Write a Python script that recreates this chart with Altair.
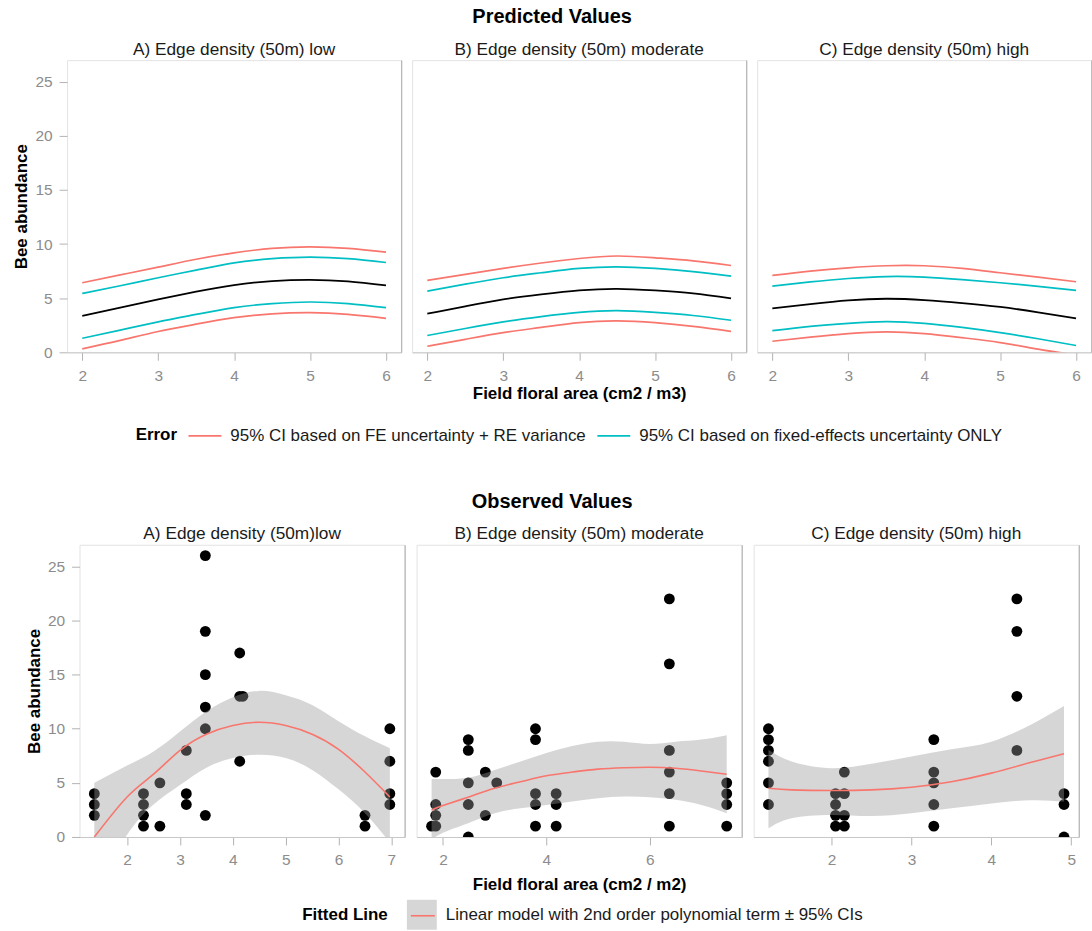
import altair as alt
import pandas as pd

FONT = "Liberation Sans"
RED = "#F8766D"
CYAN = "#00BFC4"

ERR_RE = "95% CI based on FE uncertainty + RE variance"
ERR_FE = "95% CI based on fixed-effects uncertainty ONLY"
FIT_LABEL = "Linear model with 2nd order polynomial term \u00b1 95% CIs"
FIT_KEY = "fitted line"

PRED_TITLES = ["A) Edge density (50m) low", "B) Edge density (50m) moderate", "C) Edge density (50m) high"]
OBS_TITLES = ["A) Edge density (50m)low", "B) Edge density (50m) moderate", "C) Edge density (50m) high"]

# ---------------- predicted values (model fit with two kinds of 95% CI) ----------------
pred_x = [2.0, 2.5, 3.0, 3.5, 4.0, 4.5, 5.0, 5.5, 6.0]

pred_fit_a = [3.36, 4.13, 4.89, 5.60, 6.21, 6.58, 6.70, 6.55, 6.18]
pred_re_hi_a = [6.43, 7.15, 7.87, 8.60, 9.19, 9.60, 9.74, 9.60, 9.25]
pred_fe_hi_a = [5.44, 6.15, 6.89, 7.60, 8.27, 8.65, 8.79, 8.65, 8.30]
pred_fe_lo_a = [1.30, 2.05, 2.81, 3.50, 4.13, 4.50, 4.65, 4.50, 4.13]
pred_re_lo_a = [0.32, 1.10, 1.92, 2.60, 3.20, 3.55, 3.66, 3.50, 3.14]

pred_fit_b = [3.57, 4.25, 4.89, 5.35, 5.72, 5.87, 5.72, 5.45, 4.98]
pred_re_hi_b = [6.64, 7.20, 7.75, 8.25, 8.67, 8.90, 8.73, 8.45, 8.02]
pred_fe_hi_b = [5.66, 6.30, 6.89, 7.35, 7.75, 7.90, 7.75, 7.45, 7.04]
pred_fe_lo_b = [1.55, 2.20, 2.81, 3.30, 3.69, 3.85, 3.69, 3.40, 2.96]
pred_re_lo_b = [0.56, 1.20, 1.82, 2.30, 2.74, 2.90, 2.74, 2.40, 1.94]

pred_fit_c = [4.06, 4.45, 4.80, 4.95, 4.83, 4.55, 4.19, 3.70, 3.14]
pred_re_hi_c = [7.10, 7.50, 7.81, 8.00, 8.00, 7.75, 7.35, 6.95, 6.52]
pred_fe_hi_c = [6.12, 6.50, 6.82, 7.00, 6.95, 6.72, 6.43, 6.10, 5.72]
pred_fe_lo_c = [2.00, 2.40, 2.68, 2.83, 2.68, 2.30, 1.82, 1.25, 0.63]
pred_re_lo_c = [1.02, 1.40, 1.73, 1.89, 1.73, 1.35, 0.90, 0.30, -0.27]

# ---------------- observed values ----------------
obs_a_x = [1.38, 1.38, 1.38, 2.31, 2.31, 2.31, 2.31, 2.62, 2.62, 3.12, 3.12, 3.12,
           3.48, 3.48, 3.48, 3.48, 3.48, 3.48, 4.13, 4.13, 4.19, 4.13, 6.50, 6.50,
           6.97, 6.97, 6.97, 6.97]
obs_a_y = [4, 3, 2, 4, 3, 2, 1, 5, 1, 8, 4, 3,
           26, 19, 15, 12, 10, 2, 17, 13, 13, 7, 2, 1,
           10, 7, 4, 3]

obs_b_x = [1.78, 1.86, 1.86, 1.86, 1.86, 2.49, 2.49, 2.49, 2.49, 2.49, 2.82, 2.82, 3.04,
           3.79, 3.79, 3.79, 3.79, 3.79, 4.19, 4.19, 4.19,
           6.38, 6.38, 6.38, 6.38, 6.38, 6.38, 7.49, 7.49, 7.49, 7.49]
obs_b_y = [1, 1, 2, 3, 6, 9, 8, 5, 3, 0, 6, 2, 5,
           10, 9, 4, 3, 1, 4, 3, 1,
           22, 16, 8, 6, 4, 1, 5, 4, 3, 1]

obs_c_x = [1.21, 1.21, 1.21, 1.21, 1.21, 1.21, 2.05, 2.05, 2.05, 2.05, 2.16, 2.16, 2.16, 2.16,
           3.28, 3.28, 3.28, 3.28, 3.28, 4.32, 4.32, 4.32, 4.32, 4.91, 4.91, 4.91]
obs_c_y = [10, 9, 8, 7, 5, 3, 4, 3, 2, 1, 6, 4, 2, 1,
           9, 6, 5, 3, 1, 22, 19, 13, 8, 4, 3, 0]

# fitted curve and its 95% band for each panel
fit_a_x = [1.38, 2.0, 2.5, 3.0, 3.5, 4.0, 4.5, 5.0, 5.5, 6.0, 6.5, 6.97]
fit_a_y = [0.0, 3.7, 5.8, 8.0, 9.5, 10.3, 10.6, 10.3, 9.5, 8.1, 6.0, 3.7]
fit_a_hi = [5.0, 6.6, 7.9, 9.75, 11.6, 12.9, 13.5, 13.1, 12.2, 10.7, 9.3, 8.2]
fit_a_lo = [-5.0, 0.2, 3.0, 4.8, 6.4, 7.3, 7.6, 7.3, 6.2, 4.4, 2.2, -0.5]

fit_b_x = [1.78, 2.0, 2.5, 3.0, 3.5, 4.0, 4.5, 5.0, 5.5, 6.0, 6.5, 7.0, 7.49]
fit_b_y = [2.5, 2.9, 3.7, 4.5, 5.1, 5.65, 6.0, 6.27, 6.4, 6.45, 6.35, 6.1, 5.8]
fit_b_hi = [5.35, 5.35, 5.5, 6.2, 6.97, 7.75, 8.4, 8.8, 8.8, 8.6, 8.8, 9.0, 9.4]
fit_b_lo = [-0.3, 0.4, 1.3, 2.2, 2.65, 2.96, 3.27, 3.58, 3.73, 3.67, 3.43, 2.96, 2.2]

fit_c_x = [1.21, 1.5, 2.0, 2.5, 3.0, 3.5, 4.0, 4.5, 4.91]
fit_c_y = [4.5, 4.35, 4.29, 4.35, 4.6, 5.1, 5.9, 6.9, 7.7]
fit_c_hi = [8.05, 6.97, 6.36, 6.76, 7.44, 8.1, 8.8, 10.4, 12.1]
fit_c_lo = [0.8, 1.73, 2.04, 1.94, 2.2, 2.65, 3.1, 3.4, 3.27]

PRED_SERIES = [
    (pred_fit_a, pred_re_hi_a, pred_fe_hi_a, pred_fe_lo_a, pred_re_lo_a),
    (pred_fit_b, pred_re_hi_b, pred_fe_hi_b, pred_fe_lo_b, pred_re_lo_b),
    (pred_fit_c, pred_re_hi_c, pred_fe_hi_c, pred_fe_lo_c, pred_re_lo_c),
]
OBS_POINTS = [(obs_a_x, obs_a_y), (obs_b_x, obs_b_y), (obs_c_x, obs_c_y)]
OBS_FITS = [(fit_a_x, fit_a_y, fit_a_hi, fit_a_lo),
            (fit_b_x, fit_b_y, fit_b_hi, fit_b_lo),
            (fit_c_x, fit_c_y, fit_c_hi, fit_c_lo)]
OBS_XDOMAINS = [[1.10, 7.25], [1.49, 7.78], [1.025, 5.095]]
OBS_XTICKS = [[2, 3, 4, 5, 6, 7], [2, 4, 6], [2, 3, 4, 5]]

Y_TICKS = [0, 5, 10, 15, 20, 25]
Y_SCALE = alt.Scale(domain=[0, 27], nice=False, zero=False)

TOP_W, BOT_W, PANEL_H = 335, 326, 293
CURVE = "natural"

color_legend = alt.Legend(
    title="Error", orient="none", legendX=69, legendY=359, direction="horizontal",
    titleOrient="left", titleAnchor="end", titleBaseline="bottom", titlePadding=10,
    symbolType="stroke", symbolSize=1089, symbolStrokeWidth=1.8,
    labelOffset=8, columnPadding=7, padding=0,
)
# grey key box with the title and label
fill_legend = alt.Legend(
    title="Fitted Line", orient="none", legendX=236, legendY=842, direction="horizontal",
    titleOrient="left", titleAnchor="middle", titleBaseline="middle", titlePadding=19,
    symbolType="square", symbolSize=900, symbolOpacity=0.4, symbolStrokeWidth=0,
    labelOffset=9, padding=0,
)
# red line drawn across the middle of the grey key box
stroke_legend = alt.Legend(
    title=None, orient="none", legendX=344, legendY=845, direction="horizontal",
    symbolType="stroke", symbolSize=576, symbolStrokeWidth=1.6,
    labelExpr="''", labelOffset=0, padding=0,
)

right_edge = alt.Axis(orient="right", labels=False, ticks=False, title=None, grid=False,
                      domain=True, domainColor="#b5b5b5", domainWidth=1.2)


def left_axis():
    return alt.Axis(values=Y_TICKS, title="Bee abundance", grid=False, domain=False)


def pred_frame(i):
    fit, re_hi, fe_hi, fe_lo, re_lo = PRED_SERIES[i]
    rows = []
    for vals, series, bound in [(fit, "fit", "mid"), (re_hi, ERR_RE, "hi"), (re_lo, ERR_RE, "lo"),
                                (fe_hi, ERR_FE, "hi"), (fe_lo, ERR_FE, "lo")]:
        for xv, yv in zip(pred_x, vals):
            rows.append({"x": xv, "y": yv, "series": series, "bound": bound})
    return pd.DataFrame(rows)


def pred_panel(i):
    df = pred_frame(i)
    xenc = alt.X("x:Q", scale=alt.Scale(domain=[1.8, 6.2], nice=False, zero=False),
                 axis=alt.Axis(values=[2, 3, 4, 5, 6], format="d", grid=False, titlePadding=2,
                               title="Field floral area (cm2 / m3)" if i == 1 else None))
    ci = alt.Chart(df).transform_filter(alt.datum.series != "fit").mark_line(
        strokeWidth=1.7, interpolate=CURVE, clip=True
    ).encode(
        x=xenc,
        y=alt.Y("y:Q", scale=Y_SCALE, axis=left_axis() if i == 0 else None),
        color=alt.Color("series:N", scale=alt.Scale(domain=[ERR_RE, ERR_FE], range=[RED, CYAN]),
                        legend=color_legend),
        detail="bound:N",
    )
    fit = alt.Chart(df).transform_filter(alt.datum.series == "fit").mark_line(
        strokeWidth=1.8, interpolate=CURVE, clip=True, color="black"
    ).encode(x=xenc, y=alt.Y("y:Q", scale=Y_SCALE, axis=right_edge))
    return alt.layer(ci, fit).resolve_axis(y="independent").properties(
        width=TOP_W, height=PANEL_H, title=PRED_TITLES[i])


def obs_panel(i):
    px, py = OBS_POINTS[i]
    fx, fy, fhi, flo = OBS_FITS[i]
    pts = pd.DataFrame({"x": px, "y": py})
    fit = pd.DataFrame({"x": fx, "fit": fy, "hi": fhi, "lo": flo,
                        "band": FIT_LABEL, "line": FIT_KEY})
    xenc = alt.X("x:Q", scale=alt.Scale(domain=OBS_XDOMAINS[i], nice=False, zero=False),
                 axis=alt.Axis(values=OBS_XTICKS[i], format="d", grid=False, titlePadding=8,
                               title="Field floral area (cm2 / m2)" if i == 1 else None))
    points = alt.Chart(pts).mark_circle(size=118, color="black", opacity=1, clip=True).encode(
        x=xenc, y=alt.Y("y:Q", scale=Y_SCALE, axis=left_axis() if i == 0 else None))
    band = alt.Chart(fit).mark_area(opacity=0.4, interpolate=CURVE, clip=True).encode(
        x=xenc,
        y=alt.Y("lo:Q", scale=Y_SCALE, axis=None),
        y2="hi:Q",
        fill=alt.Fill("band:N", scale=alt.Scale(domain=[FIT_LABEL], range=["#999999"]),
                      legend=fill_legend),
    )
    line = alt.Chart(fit).mark_line(strokeWidth=1.6, interpolate=CURVE, clip=True).encode(
        x=xenc,
        y=alt.Y("fit:Q", scale=Y_SCALE, axis=right_edge),
        stroke=alt.Stroke("line:N", scale=alt.Scale(domain=[FIT_KEY], range=[RED]),
                          legend=stroke_legend),
    )
    return alt.layer(points, band, line).resolve_axis(y="independent").properties(
        width=BOT_W, height=PANEL_H, title=OBS_TITLES[i])


section_title = dict(fontSize=20, fontWeight="bold", color="black", anchor="middle", offset=13)

top = alt.hconcat(*[pred_panel(i) for i in range(3)], spacing=9).properties(
    title=alt.Title("Predicted Values", **section_title))
bottom = alt.hconcat(*[obs_panel(i) for i in range(3)], spacing=10).properties(
    title=alt.Title("Observed Values", **section_title))

chart = alt.vconcat(top, bottom, spacing=90, center=True).properties(
    padding={"left": 12, "top": 6, "right": 0, "bottom": 0}
).configure(font=FONT).configure_view(
    stroke="#e3e3e3", strokeWidth=1
).configure_axis(
    labelFont=FONT, labelFontSize=15.5, labelColor="#8c8c8c",
    tickColor="#b3b3b3", tickSize=8,
    domainColor="#c8c8c8", titleFont=FONT, titleFontSize=17, titleFontWeight="bold",
    titleColor="black",
).configure_axisX(
    labelPadding=8,
).configure_axisY(
    labelPadding=7, titlePadding=4,
).configure_title(
    font=FONT, fontSize=17.3, fontWeight="normal", color="#1a1a1a", offset=2,
).configure_legend(
    labelFont=FONT, labelFontSize=17, labelColor="#1a1a1a", labelLimit=0,
    titleFont=FONT, titleFontSize=17, titleFontWeight="bold", titleColor="black",
)

chart.save("out.html", embed_options={"renderer": "svg", "actions": False})
